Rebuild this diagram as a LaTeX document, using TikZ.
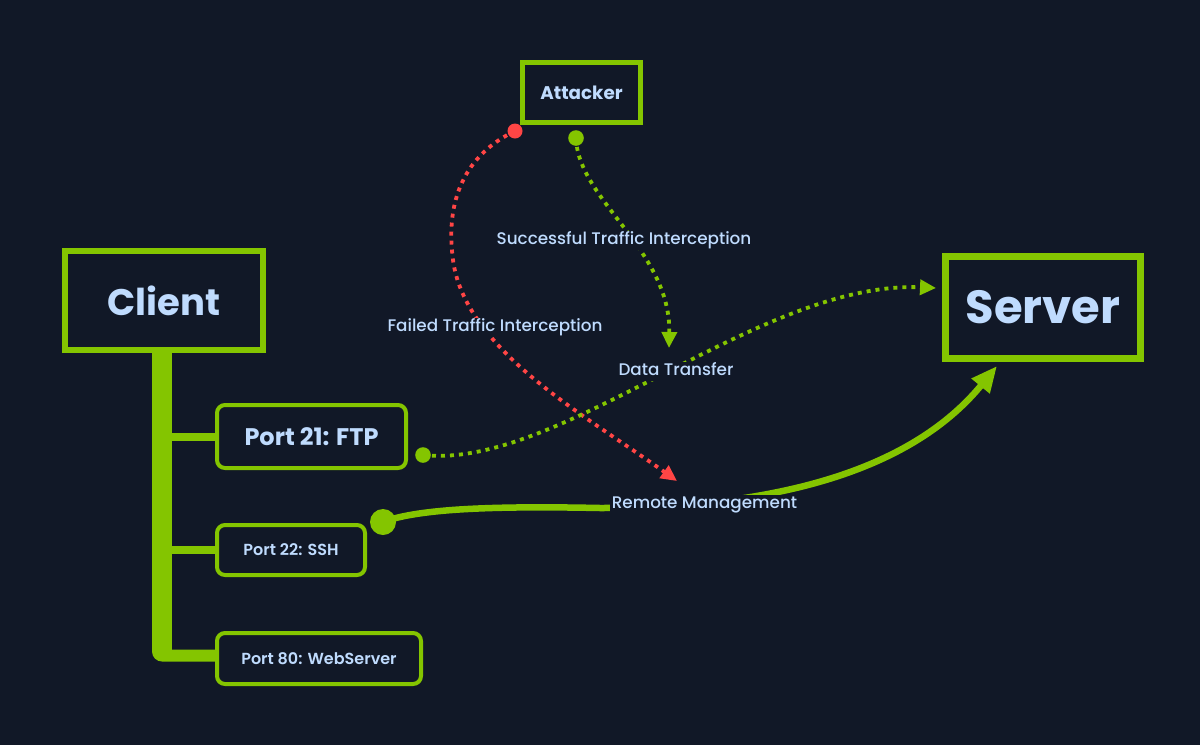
\documentclass[tikz,border=0pt]{standalone}
\usepackage{fontspec}
\setmainfont{Poppins}
\newfontfamily\lblfont{Poppins}[UprightFont={* Medium}]
\newfontfamily\semifont{Poppins}[UprightFont={* SemiBold}]
\usetikzlibrary{arrows.meta,calc}
\definecolor{bg}{HTML}{111827}
\definecolor{lime}{HTML}{84C500}
\definecolor{ink}{HTML}{BFDBFE}
\definecolor{alert}{HTML}{FF4545}
\pgfdeclarelayer{back}
\pgfsetlayers{back,main}
\begin{document}
\begin{tikzpicture}[x=1pt,y=-1pt,
  mainbox/.style={draw=lime, fill=bg, text=ink, inner sep=0pt},
  portbox/.style={draw=lime, fill=bg, text=ink, inner sep=0pt, rounded corners=8pt, line width=4pt},
  lbl/.style={fill=bg, text=ink, inner sep=2pt, text height=12pt, text depth=3pt, font=\lblfont\fontsize{16.8}{20}\selectfont},
  greendots/.style={draw=lime, line width=3.8pt, dash pattern=on 4pt off 5pt},
  reddots/.style={draw=alert, line width=3.8pt, dash pattern=on 4pt off 5pt},
]
\useasboundingbox (0,0) rectangle (1200,745);

% boxes
\node[mainbox, line width=6.5pt, minimum width=198pt, minimum height=99pt,
      font=\fontsize{37}{42}\selectfont\bfseries] (client) at (164,300.5) {Client};
\node[mainbox, line width=7pt, minimum width=195pt, minimum height=102pt,
      font=\fontsize{46.5}{52}\selectfont\bfseries] (server) at (1043,307.5) {Server};
\node[mainbox, line width=5pt, minimum width=118pt, minimum height=60pt,
      font=\fontsize{18.3}{22}\selectfont\bfseries] (attacker) at (581.5,92.5) {Attacker};
\node[portbox, minimum width=189pt, minimum height=63pt,
      font=\fontsize{24}{27}\selectfont\bfseries] (p21) at (311.5,436.5) {Port 21: FTP};
\node[portbox, minimum width=148pt, minimum height=50pt,
      font=\semifont\fontsize{16}{20}\selectfont] (p22) at (291,550) {Port 22: SSH};
\node[portbox, minimum width=204pt, minimum height=51pt,
      font=\semifont\fontsize{16}{20}\selectfont] (p80) at (319,658.5) {Port 80: WebServer};

% trunk and branches (behind the boxes)
\begin{pgfonlayer}{back}
\fill[bg] (0,0) rectangle (1200,745);
\coordinate (tk) at ($(client.south)+(-2,0)$);
\coordinate (tb) at (tk |- p80.west);
\fill[lime] ($(tk)+(-10,-20)$) rectangle ($(tb)+(10,-9)$);
\fill[lime, rounded corners=10pt] ($(tb)+(0,-30)$) -- ($(tb)+(-10,-30)$) -- ($(tb)+(-10,3)$)
  -- ($(p80.center)+(0,3)$) -- ($(p80.center)+(0,-9)$) -- ($(tb)+(0,-9)$) -- cycle;
\draw[lime, line width=8pt] (tk |- p21.west) -- (p21.center);
\draw[lime, line width=8pt] (tk |- p22.west) -- (p22.center);
\end{pgfonlayer}

% connector end points
\coordinate (rs) at ($(attacker.south west)+(-5,6)$);
\coordinate (gs) at ($(attacker.south)+(-5.5,13)$);
\coordinate (ds) at ($(p21.east)+(15,18.5)$);
\coordinate (ms) at ($(p22.east)+(16,-28)$);
\coordinate (redend) at (677,481);
\coordinate (succend) at (669,348);

% failed interception
\draw[reddots, -{Triangle[length=16pt,width=15pt]}] (rs)
  .. controls (465,155) and (445,200) .. (453,260)
  .. controls (465,350) and (585,415) .. (redend);
\fill[alert] (rs) circle[radius=7.5pt];

% successful interception
\draw[greendots, -{Triangle[length=16pt,width=15pt]}] (gs)
  .. controls (578,200) and (671,250) .. (succend);
\fill[lime] (gs) circle[radius=7.8pt];

% data transfer
\draw[greendots, -{Triangle[length=16pt,width=15pt]}] (ds)
  .. controls (560,470) and (760,280) .. ($(server.west)+(-6,-19.5)$);
\fill[lime] (ds) circle[radius=7.8pt];

% remote management
\draw[lime, line width=6.5pt, -{Triangle[length=26pt,width=22pt]}] (ms)
  .. controls (420,508) and (500,506) .. (600,508)
  .. controls (800,508) and (920,460) .. ($(server.south)+(-46,4)$);
\fill[lime] (ms) circle[radius=13pt];

% labels
\node[lbl] (lsucc) at (624,240) {Successful Traffic Interception};
\node[lbl] (lfail) at (495,327) {Failed Traffic Interception};
\node[lbl] (ldata) at (676,371) {Data Transfer};
\node[lbl] (lremote) at (704.5,504) {Remote Management};
\end{tikzpicture}
\end{document}
